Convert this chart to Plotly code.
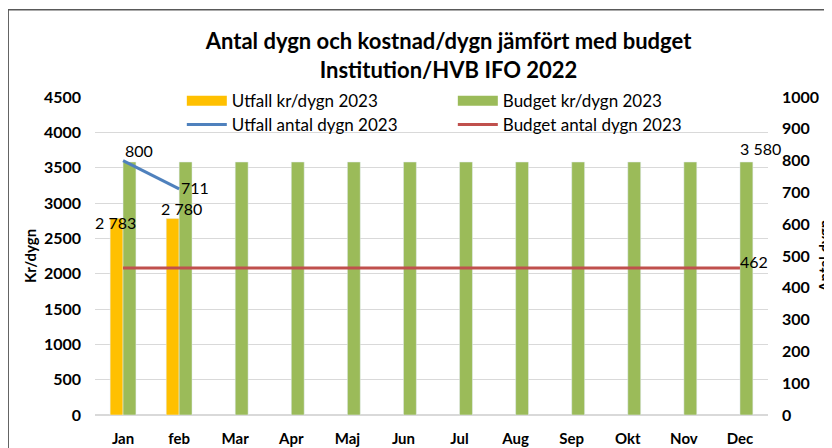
import plotly.graph_objects as go

# months on the x axis
months = ['Jan', 'feb', 'Mar', 'Apr', 'Maj', 'Jun', 'Jul', 'Aug', 'Sep', 'Okt', 'Nov', 'Dec']

# kr/dygn (left axis)
utfall_kr = [2783, 2780, None, None, None, None, None, None, None, None, None, None]
budget_kr = [3580] * 12

# antal dygn (right axis)
utfall_dygn = [800, 711, None, None, None, None, None, None, None, None, None, None]
budget_dygn = [462] * 12

FONT = 'Lato'
ORANGE, GREEN, BLUE, RED = '#FFC000', '#9BBB59', '#4F81BD', '#C0504D'

fig = go.Figure()

fig.add_trace(go.Bar(x=months, y=utfall_kr, name='Utfall kr/dygn 2023',
                     marker_color=ORANGE, showlegend=False))
fig.add_trace(go.Bar(x=months, y=budget_kr, name='Budget kr/dygn 2023',
                     marker_color=GREEN, showlegend=False))
fig.add_trace(go.Scatter(x=months, y=utfall_dygn, name='Utfall antal dygn 2023',
                         mode='lines', line=dict(color=BLUE, width=3),
                         yaxis='y2', legend='legend2'))
fig.add_trace(go.Scatter(x=months, y=budget_dygn, name='Budget antal dygn 2023',
                         mode='lines', line=dict(color=RED, width=3),
                         yaxis='y2', legend='legend2'))

# excel draws the bar keys as wide blocks -> thick legend-only lines
for name, col in [('Utfall kr/dygn 2023', ORANGE), ('Budget kr/dygn 2023', GREEN)]:
    fig.add_trace(go.Scatter(x=[None], y=[None], name=name, mode='lines',
                             line=dict(color=col, width=14), legend='legend',
                             hoverinfo='skip'))


def fmt(v):
    # swedish style thousands separator
    return f'{v:,}'.replace(',', ' ')


annotations = []
lbl = dict(showarrow=False, font=dict(family=FONT, size=16, color='black'))

# utfall kr labels (excel put them a bit differently for each month)
for m, v in zip(months, utfall_kr):
    if v is not None:
        first = m == months[0]
        annotations.append(dict(x=m, y=v, yref='y', text=fmt(v),
                                xshift=-8 if first else 2, yshift=-4 if first else 10, **lbl))
# budget kr label, only the last month
annotations.append(dict(x=months[-1], y=budget_kr[-1], yref='y', text=fmt(budget_kr[-1]),
                        xshift=21, yshift=14, **lbl))
# utfall dygn labels
for m, v in zip(months, utfall_dygn):
    if v is not None:
        annotations.append(dict(x=m, y=v, yref='y2', text=fmt(v), xshift=16,
                                yshift=10 if m == months[0] else 1, **lbl))
# budget dygn label
annotations.append(dict(x=months[-1], y=budget_dygn[-1], yref='y2', text=fmt(budget_dygn[-1]),
                        xshift=14, yshift=7, **lbl))

# axis titles
annotations.append(dict(x=-0.0966, y=0.5, xref='paper', yref='paper', text='<b>Kr/dygn</b>',
                        textangle=-90, showarrow=False, xanchor='center', yanchor='middle',
                        font=dict(family=FONT, size=15, color='black')))
annotations.append(dict(x=1.083, y=0.5, xref='paper', yref='paper', text='<b>Antal dygn</b>',
                        textangle=-90, showarrow=False, xanchor='center', yanchor='middle',
                        font=dict(family=FONT, size=15, color='black')))

leg = dict(orientation='h', xanchor='left', yanchor='middle',
           entrywidth=216, entrywidthmode='pixels', itemwidth=40,
           traceorder='normal', bgcolor='rgba(0,0,0,0)', tracegroupgap=0,
           font=dict(family=FONT, size=17, color='black'))

fig.update_layout(
    width=832, height=448,
    margin=dict(l=87, r=72, t=89, b=41, autoexpand=False),
    paper_bgcolor='white', plot_bgcolor='white',
    font=dict(family=FONT, size=15, color='black'),
    title=dict(text='<b>Antal dygn och kostnad/dygn jämfört med budget<br>Institution/HVB IFO 2022</b>',
               x=0.5295, xanchor='center', y=0.908, yanchor='top',
               font=dict(family=FONT, size=22, color='black')),
    barmode='group', bargap=0.54, bargroupgap=0,
    showlegend=True,
    legend=dict(x=0.129, y=0.987, **leg),
    legend2=dict(x=0.129, y=0.912, **leg),
    xaxis=dict(range=[-0.5, 11.5], tickfont=dict(family=FONT, size=15, color='black'),
               automargin=False, showgrid=False, ticks='', tickprefix='<b>', ticksuffix='</b>',
               ticklabelstandoff=13),
    yaxis=dict(range=[0, 4500], dtick=500, showgrid=True, gridcolor='#D9D9D9',
               zeroline=True, zerolinecolor='#D9D9D9', tickprefix='<b>', ticksuffix='</b>',
               ticklabelstandoff=13, automargin=False,
               tickfont=dict(family=FONT, size=16, color='black')),
    yaxis2=dict(range=[0, 1000], dtick=100, overlaying='y', side='right',
                showgrid=False, zeroline=False, tickprefix='<b>', ticksuffix='</b>',
                ticklabelstandoff=13, automargin=False,
                tickfont=dict(family=FONT, size=16, color='black')),
    annotations=annotations,
    shapes=[dict(type='rect', xref='paper', yref='paper', x0=-0.129, x1=1.086,
                 y0=-0.12, y1=1.274, line=dict(color='#595959', width=1.5))],
)

fig.write_html('out.html')
